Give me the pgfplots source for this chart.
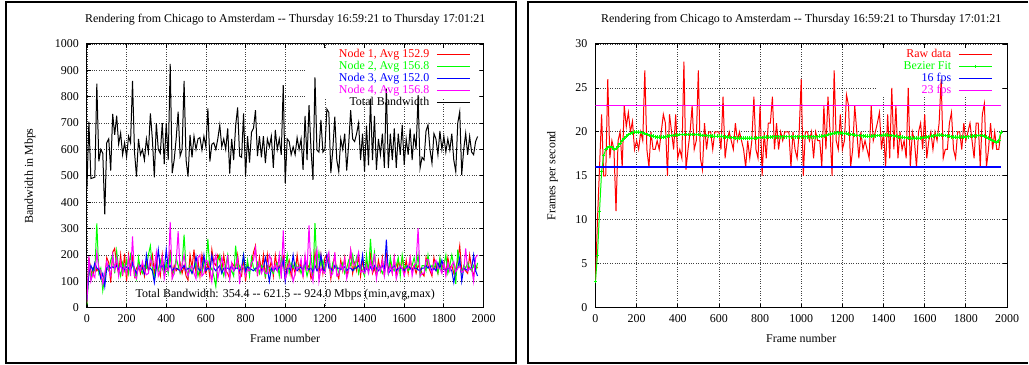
\documentclass[border=0pt]{standalone}
\usepackage{fontspec}
\setmainfont{Liberation Serif}
\usepackage{pgfplots}
\usepackage{pgfplotstable}
\pgfplotsset{compat=1.18}
\definecolor{gpred}{RGB}{255,0,0}
\definecolor{gpgreen}{RGB}{0,255,0}
\definecolor{gpblue}{RGB}{0,0,255}
\definecolor{gpmag}{RGB}{255,0,255}

\pgfplotstableread{
f t n1 n2 n3 n4 r b
0 450 15 10 30 20 3 3
10 705 190 150 130 195 10 6
20 490 140 110 160 100 16 11
30 492 120 150 140 130 22 15.5
40 495 160 140 170 115 15 17.3
50 850 140 320 150 210 15 18
60 555 150 130 145 150 26 18.2
70 600 120 150 110 140 17 18.3
80 585 100 65 130 90 19 18.2
90 354 110 120 80 130 18 18.0
100 625 190 150 150 175 11 18.1
110 640 170 140 160 145 19 18.4
120 520 95 180 150 120 20 18.7
130 735 210 200 155 200 16 19.0
140 655 225 130 150 145 23 19.3
150 728 160 215 160 190 20.6 19.5
160 620 130 150 145 120 22.2 19.7
170 662 200 120 160 175 20 19.8
180 580 120 170 150 130 21.2 19.9
190 625 205 140 145 160 18 20.0
200 572 100 180 155 130 19 20.0
210 650 200 130 150 190 18 20.0
220 625 150 200 140 120 20 19.95
230 860 190 160 170 270 19 19.9
240 590 120 140 150 120 27 19.8
250 497 150 110 130 110 18 19.7
260 640 165 190 150 160 16 19.6
270 580 130 145 160 140 20 19.55
280 600 160 130 150 175 18 19.5
290 560 120 160 130 140 18 19.45
300 640 175 150 200 125 19 19.4
310 590 140 200 145 130 18 19.4
320 737 160 235 150 190 20 19.4
330 640 200 150 140 160 22 19.4
340 494 130 110 95 150 21 19.45
350 700 180 160 150 210 15 19.5
360 600 150 140 220 120 22 19.55
370 585 120 180 150 140 20 19.6
380 700 200 150 160 190 18 19.6
390 544 130 125 145 110 22 19.65
400 700 160 170 220 150 17 19.65
410 560 140 130 150 140 18 19.7
420 924 220 200 160 325 17 19.7
430 510 120 140 140 110 28 19.7
440 560 160 130 150 130 15.7 19.7
450 640 140 190 150 170 18 19.7
460 743 150 160 145 290 20 19.7
470 575 170 130 140 140 23 19.7
480 600 130 160 150 160 18 19.7
490 860 160 277 160 200 19 19.7
500 560 120 150 140 145 27 19.7
510 497 105 120 150 120 17 19.65
520 655 200 160 145 150 15.7 19.6
530 570 150 130 130 160 21 19.6
540 650 220 150 150 130 18 19.6
550 600 130 170 195 110 20 19.55
560 640 180 120 150 190 20 19.55
570 645 120 150 140 200 18 19.5
580 598 200 130 150 120 20 19.5
590 650 150 180 200 130 20 19.5
600 610 130 160 140 180 20 19.5
610 756 170 261 150 175 18 19.5
620 554 115 140 145 150 24 19.45
630 620 220 150 200 100 17 19.45
640 625 170 120 150 170 19 19.4
650 600 160 80 140 200 20 19.4
660 640 200 180 150 110 19 19.35
670 693 180 200 160 150 18 19.35
680 610 140 150 130 190 21 19.3
690 640 200 120 150 160 19 19.3
700 600 140 160 150 120 20 19.3
710 680 130 200 150 200 19 19.3
720 508 110 130 145 110 18 19.3
730 640 170 140 160 170 16 19.3
740 560 160 120 140 140 19 19.3
750 690 150 235 150 160 17 19.3
760 759 200 150 150 190 19 19.3
770 575 130 160 140 90 24 19.3
780 570 120 140 150 160 18 19.3
790 737 190 200 200 150 17 19.35
800 497 100 130 140 120 23 19.35
810 650 170 180 155 145 15 19.35
820 550 140 120 150 140 20 19.4
830 665 160 190 145 170 17 19.4
840 680 210 150 140 180 21 19.4
850 749 235 140 150 225 21 19.4
860 575 120 170 150 130 24 19.45
870 650 190 130 160 170 18 19.45
880 570 140 160 140 130 21 19.45
890 650 200 150 150 150 18 19.45
900 548 110 120 190 130 20 19.45
910 640 200 160 150 130 19 19.45
920 610 140 150 100 200 20 19.45
930 650 180 140 150 180 20 19.45
940 530 120 130 140 140 20 19.45
950 674 200 160 150 165 16 19.45
960 600 150 170 140 140 20 19.45
970 640 160 120 155 200 18 19.45
980 580 130 190 150 110 17 19.45
990 844 200 160 180 293 20 19.45
1000 472 110 150 100 110 26 19.45
1010 640 160 200 150 130 15 19.45
1020 630 180 130 150 170 20 19.45
1030 580 120 170 140 150 20 19.45
1040 610 160 150 200 100 19 19.45
1050 580 130 170 150 130 20 19.45
1060 645 200 150 140 155 17 19.45
1070 600 140 160 150 150 20 19.45
1080 640 170 130 155 185 19 19.45
1090 523 120 150 140 115 19 19.5
1100 727 190 160 175 200 16 19.5
1110 560 150 120 150 140 23 19.55
1120 768 160 150 145 312 18 19.6
1130 600 110 200 150 140 24 19.7
1140 485 130 120 135 100 20 19.75
1150 873 210 321 160 180 15 19.8
1160 598 150 150 140 220 27 19.85
1170 590 130 210 150 100 19 19.9
1180 712 200 160 200 150 18 19.9
1190 590 130 180 145 135 22 19.9
1200 600 190 140 140 130 18 19.85
1210 753 200 170 200 180 19 19.8
1220 740 180 200 150 210 24.2 19.8
1230 510 110 130 150 120 23 19.75
1240 600 160 170 140 130 16 19.7
1250 724 200 150 160 210 18 19.7
1260 560 130 160 150 120 23 19.65
1270 516 110 130 150 125 20 19.6
1280 640 180 150 145 165 17 19.6
1290 600 140 170 150 140 20 19.55
1300 660 190 130 155 185 18 19.55
1310 520 120 150 140 110 19 19.5
1320 620 150 180 150 140 18 19.5
1330 749 215 160 150 220 17 19.5
1340 640 130 200 140 170 23 19.5
1350 630 170 150 150 160 19 19.55
1360 660 140 190 150 180 20 19.55
1370 700 200 130 160 210 21 19.6
1380 560 120 160 145 135 22.2 19.6
1390 660 180 140 200 140 18 19.6
1400 516 130 120 135 130 20 19.65
1410 690 180 200 150 160 16 19.65
1420 540 140 130 140 130 22 19.65
1430 793 200 261 155 175 17 19.6
1440 560 130 150 140 140 25 19.6
1450 727 150 210 160 205 18 19.55
1460 523 120 140 150 110 23 19.5
1470 640 180 160 140 160 17 19.45
1480 580 140 150 150 140 20 19.4
1490 660 190 130 160 180 18 19.4
1500 530 120 150 140 120 19 19.35
1510 831 210 180 258 180 17 19.35
1520 529 140 130 130 130 25 19.3
1530 660 170 190 140 160 16 19.3
1540 560 130 150 150 130 20 19.3
1550 680 190 140 160 190 19 19.3
1560 530 120 160 140 110 16 19.3
1570 660 180 190 150 140 20 19.3
1580 580 150 120 150 160 21 19.3
1590 693 190 200 150 150 18 19.35
1600 542 130 150 140 120 22 19.35
1610 640 180 160 150 150 17 19.4
1620 580 130 140 160 150 19 19.45
1630 680 190 150 150 190 20 19.5
1640 560 140 160 140 120 18 19.55
1650 660 160 190 150 160 20 19.6
1660 600 130 150 150 170 19 19.65
1670 806 160 200 144 302 21 19.65
1680 529 150 120 140 119 26 19.65
1690 570 130 160 150 130 17 19.6
1700 560 120 160 150 130 18 19.6
1710 670 190 140 160 180 18 19.55
1720 693 160 200 150 183 21 19.5
1730 600 140 150 160 150 22.2 19.45
1740 548 120 160 138 130 18 19.4
1750 660 190 150 150 170 17 19.4
1760 640 150 170 140 180 20 19.4
1770 580 130 130 170 150 20 19.4
1780 670 180 190 150 150 18 19.4
1790 600 150 140 180 130 21 19.4
1800 650 170 160 150 170 19 19.45
1810 590 130 200 140 120 20 19.45
1820 640 190 130 150 170 21 19.5
1830 598 150 160 150 138 19 19.5
1840 660 160 200 140 160 17 19.55
1850 560 130 160 95 175 21 19.55
1860 516 150 90 140 136 21 19.6
1870 700 180 220 150 150 16 19.6
1880 743 235 160 190 158 22 19.6
1890 504 140 130 100 134 23.2 19.5
1900 600 150 160 150 140 16 19.4
1910 661 140 150 146 225 18 19.3
1920 580 130 170 140 140 21 19.2
1930 650 200 150 150 150 18 19.0
1940 590 150 140 150 150 20 18.9
1950 580 120 160 200 100 18 18.8
1960 630 160 140 140 190 18 19.0
1970 649 150 170 120 200 20 20.0
}\data

\pgfplotsset{
  gp/.style={
    scale only axis,
    set layers,
    xmin=0, xmax=2000,
    xtick={0,200,...,2000},
    grid=major,
    major grid style={dotted, black!75, line width=0.75bp},
    axis line style={line width=1bp},
    tick align=inside,
    major tick length=4bp,
    tick style={black, line width=0.8bp},
    /pgf/number format/assume math mode=true,
    /pgf/number format/1000 sep={},
    yticklabel style={xshift=-4bp},
    xticklabel style={yshift=-3bp},
    title style={at={(axis description cs:0.5,1.068)}, anchor=center},
    xlabel style={at={(axis description cs:0.5,-0.117)}, anchor=center},
    every axis plot/.append style={line width=1bp},
    legend cell align=right,
    legend plot pos=right,
    legend style={draw=none, fill=none, inner sep=0pt, row sep=1bp,
      column sep=6bp,
      nodes={inner ysep=0pt, inner xsep=1bp, text height=8.5bp, text depth=2.5bp}},
    legend image code/.code={\draw[mark repeat=2, mark phase=2, #1] plot coordinates {(0bp,0bp) (16.5bp,0bp) (33bp,0bp)};},
  }
}

\begin{document}
\fontsize{12}{14}\selectfont
\begin{tikzpicture}
\path (0bp,0bp) rectangle (1029bp,365bp);
\draw[line width=2bp] (6bp,2bp) rectangle (516bp,363bp);
\draw[line width=2bp] (1029bp,2bp) -- (529bp,2bp) -- (529bp,363bp) -- (1029bp,363bp);

\begin{axis}[gp,
  at={(87bp,57bp)}, anchor=south west,
  width=397bp, height=264bp,
  ymin=0, ymax=1000, ytick={0,100,...,1000},
  title={Rendering from Chicago to Amsterdam {-}{-} Thursday 16:59:21 to Thursday 17:01:21},
  xlabel={Frame number},
  ylabel={Bandwidth in Mbps},
  ylabel style={at={(axis description cs:-0.1436,0.5)}, anchor=center},
  legend style={at={(rel axis cs:0.967,0.981)}, anchor=north east},
]
\fill[white, on layer=pre main] (rel axis cs:0.549,0.79) rectangle (rel axis cs:0.988,0.982);
\addplot[gpred, no markers] table[x=f, y=n1] {\data};
\addlegendentry{\textcolor{gpred}{Node 1, Avg 152.9}}
\addplot[gpgreen, no markers] table[x=f, y=n2] {\data};
\addlegendentry{\textcolor{gpgreen}{Node 2, Avg 156.8}}
\addplot[gpblue, no markers] table[x=f, y=n3] {\data};
\addlegendentry{\textcolor{gpblue}{Node 3, Avg 152.0}}
\addplot[gpmag, no markers] table[x=f, y=n4] {\data};
\addlegendentry{\textcolor{gpmag}{Node 4, Avg 156.8}}
\addplot[black, no markers] table[x=f, y=t] {\data};
\addlegendentry{Total Bandwidth}
\node at (axis cs:1000,50) {Total Bandwidth: 354.4 {-}{-} 621.5 {-}{-} 924.0 Mbps (min,avg,max)};
\end{axis}

\begin{axis}[gp,
  at={(596bp,57bp)}, anchor=south west,
  width=412bp, height=264bp,
  ymin=0, ymax=30, ytick={0,5,...,30},
  title={Rendering from Chicago to Amsterdam {-}{-} Thursday 16:59:21 to Thursday 17:01:21},
  xlabel={Frame number},
  ylabel={Frames per second},
  ylabel style={at={(axis description cs:-0.104,0.5)}, anchor=center},
  legend style={at={(rel axis cs:0.965,0.981)}, anchor=north east},
]
\fill[white, on layer=pre main] (rel axis cs:0.684,0.80) rectangle (rel axis cs:0.988,0.982);
\addplot[gpred, no markers] table[x=f, y=r] {\data};
\addlegendentry{\textcolor{gpred}{Raw data}}
\addplot[gpgreen, mark=+, mark size=1.8bp, mark options={solid, line width=0.7bp}] table[x=f, y=b] {\data};
\addlegendentry{\textcolor{gpgreen}{Bezier Fit}}
\addplot[draw=gpblue, no markers, line width=1.3bp] coordinates {(0,16) (1970,16)};
\addlegendentry{\textcolor{gpblue}{16 fps}}
\addplot[draw=gpmag, no markers, line width=1.3bp] coordinates {(0,23) (1970,23)};
\addlegendentry{\textcolor{gpmag}{23 fps}}
\end{axis}
\end{tikzpicture}
\end{document}
